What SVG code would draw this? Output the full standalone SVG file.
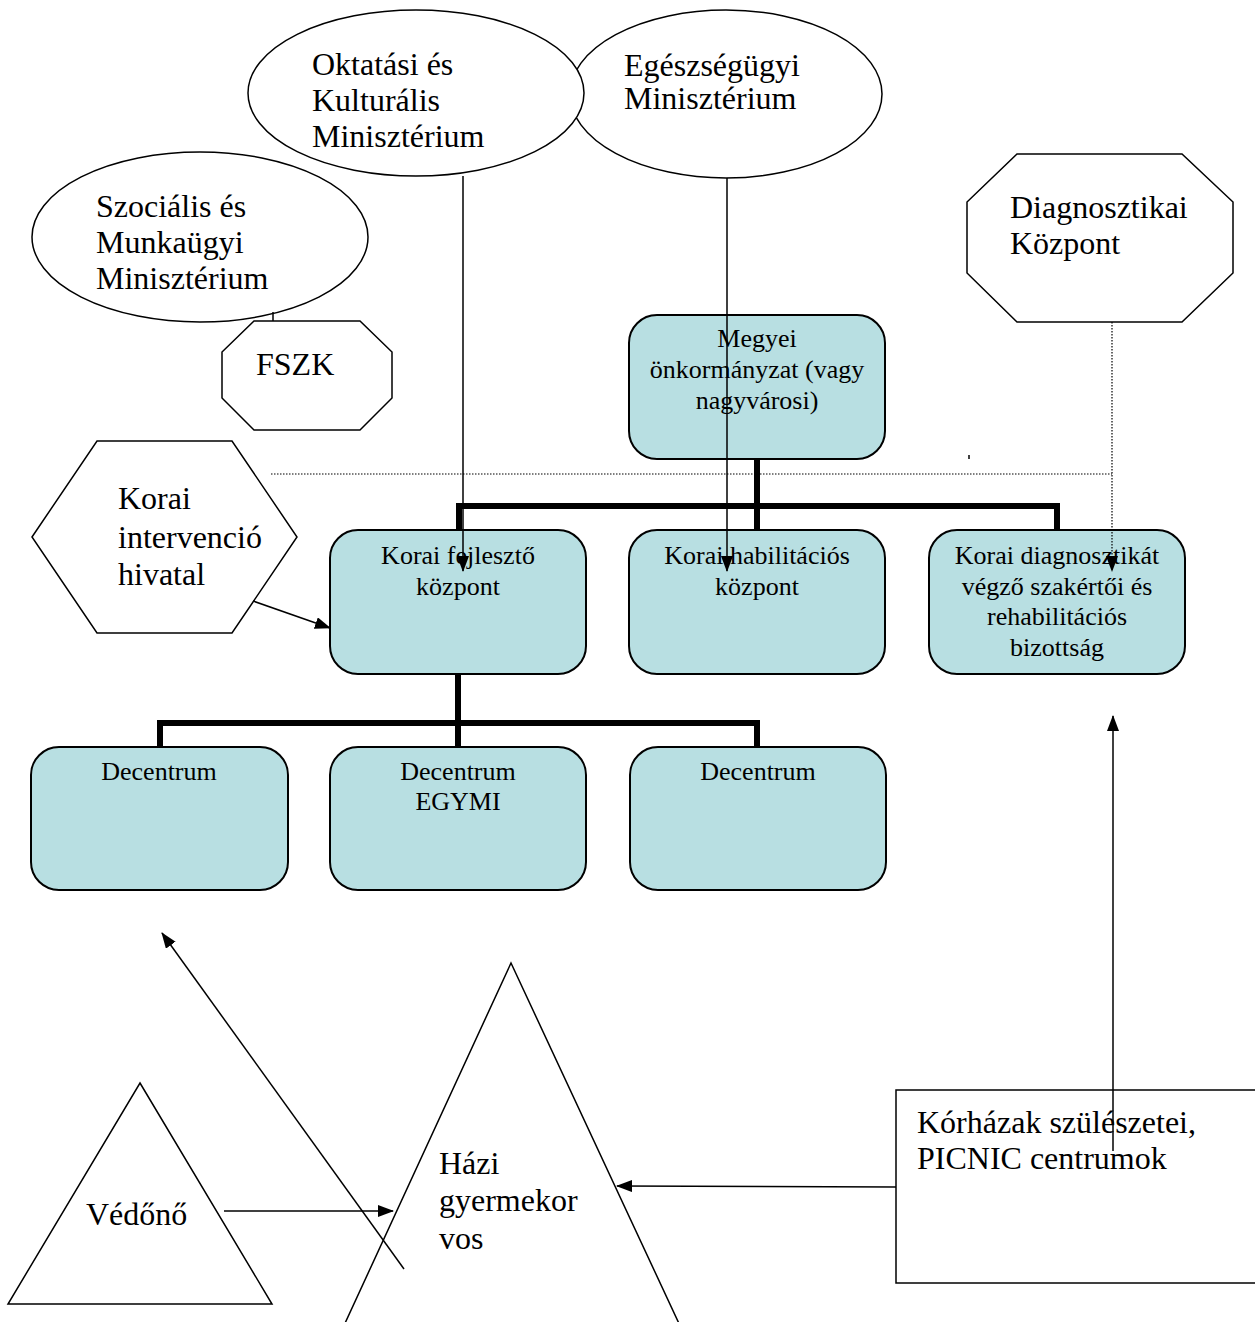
<svg xmlns="http://www.w3.org/2000/svg" width="1255" height="1322" viewBox="0 0 1255 1322">
<defs>
<marker id="ah" markerUnits="userSpaceOnUse" markerWidth="16" markerHeight="12" refX="15" refY="6" orient="auto">
<path d="M0,0 L16,6 L0,12 Z" fill="#000"/>
</marker>
</defs>
<style>
.big{font-family:"Liberation Serif","Times New Roman",serif;font-size:32px;fill:#000}
.sm{font-family:"Liberation Serif","Times New Roman",serif;font-size:26px;fill:#000;text-anchor:middle}
.shape{fill:#fff;stroke:#000;stroke-width:1.5}
.box{fill:#b8dfe2;stroke:#000;stroke-width:2}
.thin{fill:none;stroke:#000;stroke-width:1.5}
.thick{fill:none;stroke:#000;stroke-width:6}
.dot{fill:none;stroke:#000;stroke-width:1.2;stroke-dasharray:1.5 1.5}
</style>
<rect width="1255" height="1322" fill="#fff"/>

<g id="n-egeszseg">
<ellipse class="shape" cx="726" cy="94" rx="156" ry="84"/>
<text class="big" x="624" y="76">Egészségügyi</text>
<text class="big" x="624" y="109">Minisztérium</text>
</g>
<g id="n-oktatasi">
<ellipse class="shape" cx="416" cy="93" rx="168" ry="83"/>
<text class="big" x="312" y="75">Oktatási és</text>
<text class="big" x="312" y="111">Kulturális</text>
<text class="big" x="312" y="147">Minisztérium</text>
</g>
<g id="n-szocialis">
<ellipse class="shape" cx="200" cy="237" rx="168" ry="85"/>
<text class="big" x="96" y="217">Szociális és</text>
<text class="big" x="96" y="253">Munkaügyi</text>
<text class="big" x="96" y="289">Minisztérium</text>
</g>
<g id="n-fszk">
<polygon class="shape" points="254,321 360,321 392,352 392,398 360,430 254,430 222,398 222,352"/>
<text class="big" x="256" y="375">FSZK</text>
</g>
<g id="n-diag">
<polygon class="shape" points="1017,154 1182,154 1233,202 1233,273 1182,322 1017,322 967,273 967,202"/>
<text class="big" x="1010" y="218">Diagnosztikai</text>
<text class="big" x="1010" y="254">Központ</text>
</g>
<g id="n-megyei">
<rect class="box" x="629" y="315" width="256" height="144" rx="28"/>
<text class="sm" x="757" y="347">Megyei</text>
<text class="sm" x="757" y="378">önkormányzat (vagy</text>
<text class="sm" x="757" y="409">nagyvárosi)</text>
</g>
<g id="n-hivatal">
<polygon class="shape" points="32,537 97,441 232,441 297,537 232,633 97,633"/>
<text class="big" x="118" y="509">Korai</text>
<text class="big" x="118" y="548">intervenció</text>
<text class="big" x="118" y="585">hivatal</text>
</g>
<g id="n-fejleszto">
<rect class="box" x="330" y="530" width="256" height="144" rx="28"/>
<text class="sm" x="458" y="564">Korai fejlesztő</text>
<text class="sm" x="458" y="595">központ</text>
</g>
<g id="n-habilitacios">
<rect class="box" x="629" y="530" width="256" height="144" rx="28"/>
<text class="sm" x="757" y="564">Korai habilitációs</text>
<text class="sm" x="757" y="595">központ</text>
</g>
<g id="n-diagbiz">
<rect class="box" x="929" y="530" width="256" height="144" rx="28"/>
<text class="sm" x="1057" y="564">Korai diagnosztikát</text>
<text class="sm" x="1057" y="595">végző szakértői és</text>
<text class="sm" x="1057" y="625">rehabilitációs</text>
<text class="sm" x="1057" y="656">bizottság</text>
</g>
<g id="n-dec1">
<rect class="box" x="31" y="747" width="257" height="143" rx="28"/>
<text class="sm" x="159" y="780">Decentrum</text>
</g>
<g id="n-dec2">
<rect class="box" x="330" y="747" width="256" height="143" rx="28"/>
<text class="sm" x="458" y="780">Decentrum</text>
<text class="sm" x="458" y="810">EGYMI</text>
</g>
<g id="n-dec3">
<rect class="box" x="630" y="747" width="256" height="143" rx="28"/>
<text class="sm" x="758" y="780">Decentrum</text>
</g>
<g id="n-vedono">
<polygon class="shape" points="140,1083 272,1304 8,1304"/>
<text class="big" x="86" y="1225">Védőnő</text>
</g>
<g id="n-hazi">
<polygon class="shape" points="511,963 689,1345 335,1345"/>
<text class="big" x="439" y="1174">Házi</text>
<text class="big" x="439" y="1211">gyermekor</text>
<text class="big" x="439" y="1249">vos</text>
</g>
<g id="n-korhaz">
<rect class="shape" x="896" y="1090" width="370" height="193"/>
<text class="big" x="917" y="1133">Kórházak szülészetei,</text>
<text class="big" x="917" y="1169">PICNIC centrumok</text>
</g>

<g id="connectors">
<line class="thin" x1="273" y1="312" x2="273" y2="321"/>
<path class="thick" d="M757,459 V530 M459,530 V506 H1057 V530"/>
<path class="thick" d="M458,674 V747 M160,747 V723 H757 V747"/>
<line class="thin" x1="463" y1="176" x2="463" y2="571" marker-end="url(#ah)"/>
<line class="thin" x1="727" y1="178" x2="727" y2="571" marker-end="url(#ah)"/>
<line class="dot" x1="1112" y1="322" x2="1112" y2="571" marker-end="url(#ah)"/>
<line class="dot" x1="271" y1="474" x2="1112" y2="474"/>
<line class="thin" x1="969" y1="455" x2="969" y2="459"/>
<line class="thin" x1="253" y1="601" x2="330" y2="628" stroke-width="2" marker-end="url(#ah)"/>
<line class="thin" x1="224" y1="1211" x2="393" y2="1211" marker-end="url(#ah)"/>
<line class="thin" x1="404" y1="1269" x2="162" y2="933" marker-end="url(#ah)"/>
<line class="thin" x1="896" y1="1187" x2="617" y2="1186" marker-end="url(#ah)"/>
<line class="thin" x1="1113" y1="1151" x2="1113" y2="716" marker-end="url(#ah)"/>
</g>
</svg>
